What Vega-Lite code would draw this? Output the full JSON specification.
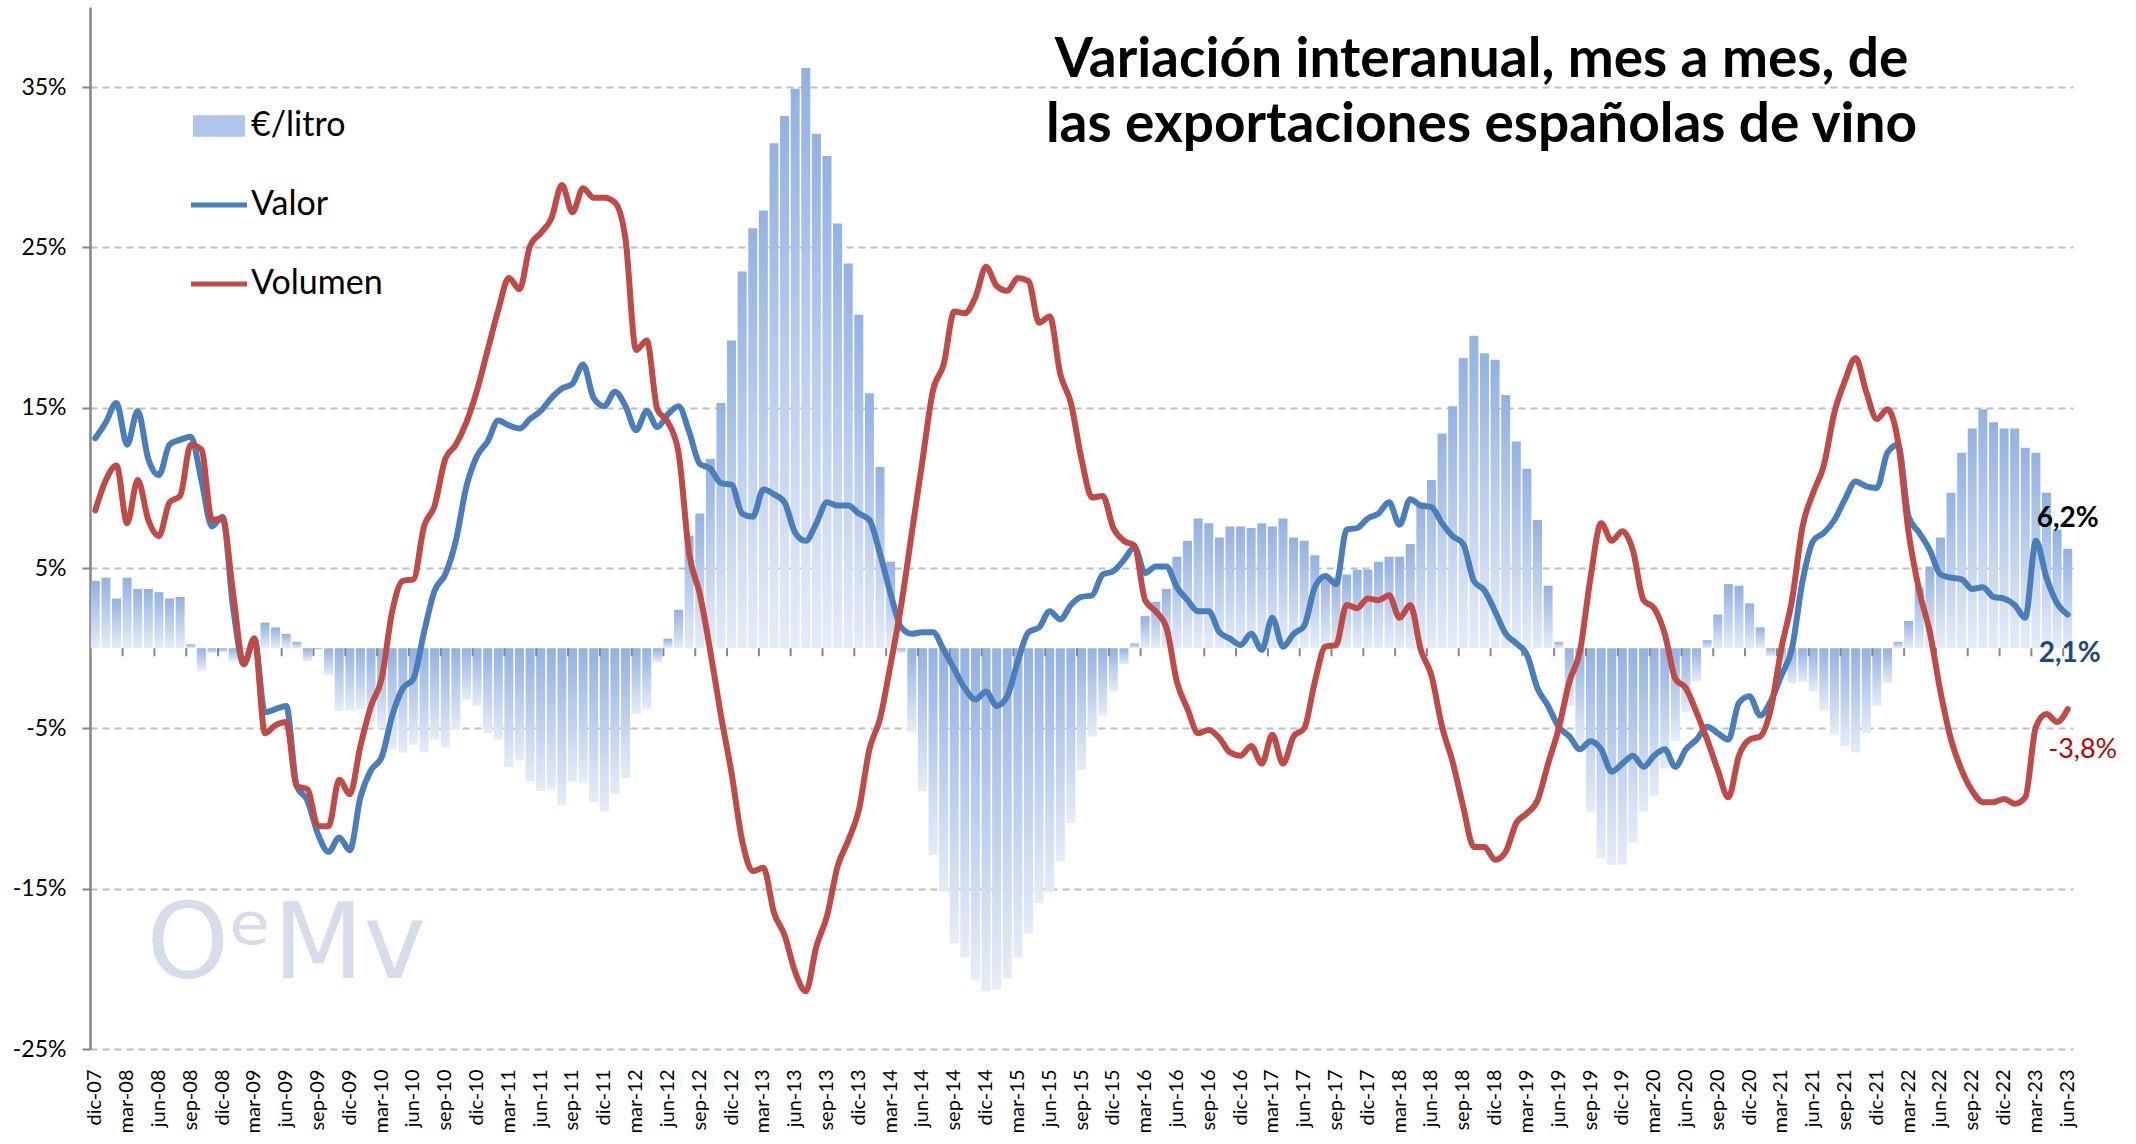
{
 "$schema": "https://vega.github.io/schema/vega-lite/v6.json",
 "width": 1983,
 "height": 1042,
 "autosize": {"type": "none"},
 "padding": {"left": 90, "top": 7, "right": 63, "bottom": 95},
 "background": "white",
 "config": {"view": {"stroke": null}, "font": "Lato"},
 "title": {
  "text": ["Variación interanual, mes a mes, de", "las exportaciones españolas de vino"],
  "font": "Lato", "fontSize": 55, "fontWeight": "bold", "color": "black",
  "lineHeight": 65, "anchor": "middle", "dx": 400, "dy": 190, "offset": 0, "baseline": "alphabetic"
 },
 "datasets": {"d": [
{"i":0,"mes":"dic-07","litro":4.2,"Valor":13.1,"Volumen":8.6},
{"i":1,"mes":"ene-08","litro":4.4,"Valor":14.1,"Volumen":10.5},
{"i":2,"mes":"feb-08","litro":3.1,"Valor":15.3,"Volumen":11.4},
{"i":3,"mes":"mar-08","litro":4.4,"Valor":12.7,"Volumen":7.8},
{"i":4,"mes":"abr-08","litro":3.7,"Valor":14.8,"Volumen":10.5},
{"i":5,"mes":"may-08","litro":3.7,"Valor":11.8,"Volumen":8.0},
{"i":6,"mes":"jun-08","litro":3.5,"Valor":10.8,"Volumen":7.0},
{"i":7,"mes":"jul-08","litro":3.1,"Valor":12.7,"Volumen":9.1},
{"i":8,"mes":"ago-08","litro":3.2,"Valor":13.0,"Volumen":9.5},
{"i":9,"mes":"sep-08","litro":0.25,"Valor":13.2,"Volumen":12.7},
{"i":10,"mes":"oct-08","litro":-1.4,"Valor":10.5,"Volumen":12.4},
{"i":11,"mes":"nov-08","litro":-0.3,"Valor":7.6,"Volumen":8.0},
{"i":12,"mes":"dic-08","litro":-0.25,"Valor":8.2,"Volumen":8.1},
{"i":13,"mes":"ene-09","litro":-0.8,"Valor":2.5,"Volumen":3.4},
{"i":14,"mes":"feb-09","litro":-0.1,"Valor":-1.0,"Volumen":-1.0},
{"i":15,"mes":"mar-09","litro":0.3,"Valor":0.6,"Volumen":0.6},
{"i":16,"mes":"abr-09","litro":1.6,"Valor":-4.0,"Volumen":-5.3},
{"i":17,"mes":"may-09","litro":1.3,"Valor":-3.8,"Volumen":-4.8},
{"i":18,"mes":"jun-09","litro":0.9,"Valor":-3.6,"Volumen":-4.6},
{"i":19,"mes":"jul-09","litro":0.4,"Valor":-8.6,"Volumen":-8.6},
{"i":20,"mes":"ago-09","litro":-0.8,"Valor":-9.5,"Volumen":-8.8},
{"i":21,"mes":"sep-09","litro":-0.1,"Valor":-11.6,"Volumen":-11.1},
{"i":22,"mes":"oct-09","litro":-1.7,"Valor":-12.7,"Volumen":-11.1},
{"i":23,"mes":"nov-09","litro":-3.9,"Valor":-11.8,"Volumen":-8.2},
{"i":24,"mes":"dic-09","litro":-3.9,"Valor":-12.6,"Volumen":-9.1},
{"i":25,"mes":"ene-10","litro":-3.8,"Valor":-9.3,"Volumen":-6.1},
{"i":26,"mes":"feb-10","litro":-4.6,"Valor":-7.6,"Volumen":-3.6},
{"i":27,"mes":"mar-10","litro":-5.0,"Valor":-6.8,"Volumen":-1.9},
{"i":28,"mes":"abr-10","litro":-6.3,"Valor":-4.2,"Volumen":2.3},
{"i":29,"mes":"may-10","litro":-6.5,"Valor":-2.5,"Volumen":4.2},
{"i":30,"mes":"jun-10","litro":-6.0,"Valor":-1.9,"Volumen":4.3},
{"i":31,"mes":"jul-10","litro":-6.5,"Valor":1.0,"Volumen":7.6},
{"i":32,"mes":"ago-10","litro":-5.7,"Valor":3.6,"Volumen":8.9},
{"i":33,"mes":"sep-10","litro":-6.2,"Valor":4.6,"Volumen":11.8},
{"i":34,"mes":"oct-10","litro":-5.1,"Valor":6.7,"Volumen":12.7},
{"i":35,"mes":"nov-10","litro":-3.2,"Valor":10.1,"Volumen":14.1},
{"i":36,"mes":"dic-10","litro":-3.6,"Valor":12.0,"Volumen":16.1},
{"i":37,"mes":"ene-11","litro":-5.3,"Valor":12.9,"Volumen":18.6},
{"i":38,"mes":"feb-11","litro":-5.7,"Valor":14.2,"Volumen":21.1},
{"i":39,"mes":"mar-11","litro":-7.4,"Valor":13.9,"Volumen":23.1},
{"i":40,"mes":"abr-11","litro":-7.0,"Valor":13.7,"Volumen":22.4},
{"i":41,"mes":"may-11","litro":-8.3,"Valor":14.3,"Volumen":25.1},
{"i":42,"mes":"jun-11","litro":-8.9,"Valor":14.8,"Volumen":25.9},
{"i":43,"mes":"jul-11","litro":-8.8,"Valor":15.6,"Volumen":26.8},
{"i":44,"mes":"ago-11","litro":-9.8,"Valor":16.2,"Volumen":28.9},
{"i":45,"mes":"sep-11","litro":-8.3,"Valor":16.5,"Volumen":27.2},
{"i":46,"mes":"oct-11","litro":-8.4,"Valor":17.7,"Volumen":28.7},
{"i":47,"mes":"nov-11","litro":-9.6,"Valor":15.6,"Volumen":28.1},
{"i":48,"mes":"dic-11","litro":-10.2,"Valor":15.1,"Volumen":28.1},
{"i":49,"mes":"ene-12","litro":-9.1,"Valor":16.0,"Volumen":27.8},
{"i":50,"mes":"feb-12","litro":-8.1,"Valor":15.1,"Volumen":25.5},
{"i":51,"mes":"mar-12","litro":-4.1,"Valor":13.6,"Volumen":18.6},
{"i":52,"mes":"abr-12","litro":-3.8,"Valor":14.8,"Volumen":19.2},
{"i":53,"mes":"may-12","litro":-0.9,"Valor":13.8,"Volumen":14.9},
{"i":54,"mes":"jun-12","litro":0.6,"Valor":14.6,"Volumen":14.1},
{"i":55,"mes":"jul-12","litro":2.4,"Valor":15.1,"Volumen":12.2},
{"i":56,"mes":"ago-12","litro":7.0,"Valor":13.5,"Volumen":5.9},
{"i":57,"mes":"sep-12","litro":8.4,"Valor":11.5,"Volumen":3.4},
{"i":58,"mes":"oct-12","litro":11.8,"Valor":11.2,"Volumen":-0.2},
{"i":59,"mes":"nov-12","litro":15.3,"Valor":10.3,"Volumen":-4.2},
{"i":60,"mes":"dic-12","litro":19.2,"Valor":10.2,"Volumen":-7.8},
{"i":61,"mes":"ene-13","litro":23.5,"Valor":8.4,"Volumen":-12.0},
{"i":62,"mes":"feb-13","litro":26.2,"Valor":8.2,"Volumen":-13.9},
{"i":63,"mes":"mar-13","litro":27.3,"Valor":9.9,"Volumen":-13.7},
{"i":64,"mes":"abr-13","litro":31.5,"Valor":9.6,"Volumen":-16.5},
{"i":65,"mes":"may-13","litro":33.2,"Valor":9.1,"Volumen":-17.9},
{"i":66,"mes":"jun-13","litro":34.9,"Valor":7.2,"Volumen":-20.2},
{"i":67,"mes":"jul-13","litro":36.2,"Valor":6.7,"Volumen":-21.4},
{"i":68,"mes":"ago-13","litro":32.1,"Valor":7.8,"Volumen":-18.6},
{"i":69,"mes":"sep-13","litro":30.7,"Valor":9.1,"Volumen":-16.7},
{"i":70,"mes":"oct-13","litro":26.5,"Valor":8.9,"Volumen":-13.6},
{"i":71,"mes":"nov-13","litro":24.0,"Valor":8.9,"Volumen":-12.0},
{"i":72,"mes":"dic-13","litro":20.8,"Valor":8.4,"Volumen":-10.1},
{"i":73,"mes":"ene-14","litro":15.9,"Valor":8.0,"Volumen":-6.3},
{"i":74,"mes":"feb-14","litro":11.3,"Valor":5.9,"Volumen":-4.4},
{"i":75,"mes":"mar-14","litro":5.4,"Valor":3.4,"Volumen":-1.0},
{"i":76,"mes":"abr-14","litro":-0.3,"Valor":1.3,"Volumen":2.7},
{"i":77,"mes":"may-14","litro":-5.2,"Valor":0.9,"Volumen":7.2},
{"i":78,"mes":"jun-14","litro":-8.9,"Valor":1.0,"Volumen":11.7},
{"i":79,"mes":"jul-14","litro":-12.9,"Valor":1.0,"Volumen":16.1},
{"i":80,"mes":"ago-14","litro":-15.2,"Valor":-0.1,"Volumen":17.7},
{"i":81,"mes":"sep-14","litro":-18.4,"Valor":-1.3,"Volumen":21.0},
{"i":82,"mes":"oct-14","litro":-19.3,"Valor":-2.5,"Volumen":20.9},
{"i":83,"mes":"nov-14","litro":-20.7,"Valor":-3.2,"Volumen":21.9},
{"i":84,"mes":"dic-14","litro":-21.4,"Valor":-2.7,"Volumen":23.8},
{"i":85,"mes":"ene-15","litro":-21.3,"Valor":-3.6,"Volumen":22.6},
{"i":86,"mes":"feb-15","litro":-20.6,"Valor":-3.0,"Volumen":22.3},
{"i":87,"mes":"mar-15","litro":-19.3,"Valor":-0.8,"Volumen":23.1},
{"i":88,"mes":"abr-15","litro":-17.8,"Valor":1.0,"Volumen":22.9},
{"i":89,"mes":"may-15","litro":-15.9,"Valor":1.3,"Volumen":20.3},
{"i":90,"mes":"jun-15","litro":-15.2,"Valor":2.3,"Volumen":20.7},
{"i":91,"mes":"jul-15","litro":-13.3,"Valor":1.8,"Volumen":17.1},
{"i":92,"mes":"ago-15","litro":-10.9,"Valor":2.7,"Volumen":15.3},
{"i":93,"mes":"sep-15","litro":-7.6,"Valor":3.2,"Volumen":11.8},
{"i":94,"mes":"oct-15","litro":-5.5,"Valor":3.3,"Volumen":9.4},
{"i":95,"mes":"nov-15","litro":-4.2,"Valor":4.6,"Volumen":9.5},
{"i":96,"mes":"dic-15","litro":-2.7,"Valor":4.8,"Volumen":7.5},
{"i":97,"mes":"ene-16","litro":-1.0,"Valor":5.5,"Volumen":6.7},
{"i":98,"mes":"feb-16","litro":0.3,"Valor":6.3,"Volumen":6.4},
{"i":99,"mes":"mar-16","litro":2.0,"Valor":4.7,"Volumen":3.0},
{"i":100,"mes":"abr-16","litro":2.9,"Valor":5.1,"Volumen":2.3},
{"i":101,"mes":"may-16","litro":3.7,"Valor":5.1,"Volumen":1.3},
{"i":102,"mes":"jun-16","litro":5.7,"Valor":3.8,"Volumen":-2.1},
{"i":103,"mes":"jul-16","litro":6.7,"Valor":3.0,"Volumen":-3.8},
{"i":104,"mes":"ago-16","litro":8.1,"Valor":2.3,"Volumen":-5.3},
{"i":105,"mes":"sep-16","litro":7.8,"Valor":2.3,"Volumen":-5.1},
{"i":106,"mes":"oct-16","litro":6.9,"Valor":1.0,"Volumen":-5.6},
{"i":107,"mes":"nov-16","litro":7.6,"Valor":0.6,"Volumen":-6.5},
{"i":108,"mes":"dic-16","litro":7.6,"Valor":0.2,"Volumen":-6.7},
{"i":109,"mes":"ene-17","litro":7.5,"Valor":0.9,"Volumen":-6.1},
{"i":110,"mes":"feb-17","litro":7.8,"Valor":-0.1,"Volumen":-7.2},
{"i":111,"mes":"mar-17","litro":7.6,"Valor":1.9,"Volumen":-5.4},
{"i":112,"mes":"abr-17","litro":8.1,"Valor":0.1,"Volumen":-7.2},
{"i":113,"mes":"may-17","litro":6.9,"Valor":0.9,"Volumen":-5.5},
{"i":114,"mes":"jun-17","litro":6.7,"Valor":1.4,"Volumen":-5.0},
{"i":115,"mes":"jul-17","litro":5.8,"Valor":3.8,"Volumen":-2.1},
{"i":116,"mes":"ago-17","litro":4.6,"Valor":4.5,"Volumen":0.1},
{"i":117,"mes":"sep-17","litro":4.4,"Valor":4.0,"Volumen":0.2},
{"i":118,"mes":"oct-17","litro":4.6,"Valor":7.4,"Volumen":2.7},
{"i":119,"mes":"nov-17","litro":4.9,"Valor":7.5,"Volumen":2.5},
{"i":120,"mes":"dic-17","litro":4.9,"Valor":8.1,"Volumen":3.1},
{"i":121,"mes":"ene-18","litro":5.4,"Valor":8.4,"Volumen":3.0},
{"i":122,"mes":"feb-18","litro":5.7,"Valor":9.1,"Volumen":3.3},
{"i":123,"mes":"mar-18","litro":5.7,"Valor":7.7,"Volumen":1.9},
{"i":124,"mes":"abr-18","litro":6.5,"Valor":9.3,"Volumen":2.7},
{"i":125,"mes":"may-18","litro":9.1,"Valor":8.9,"Volumen":-0.1},
{"i":126,"mes":"jun-18","litro":10.5,"Valor":8.8,"Volumen":-1.7},
{"i":127,"mes":"jul-18","litro":13.4,"Valor":7.8,"Volumen":-4.9},
{"i":128,"mes":"ago-18","litro":15.1,"Valor":7.0,"Volumen":-7.1},
{"i":129,"mes":"sep-18","litro":18.1,"Valor":6.5,"Volumen":-9.9},
{"i":130,"mes":"oct-18","litro":19.5,"Valor":4.2,"Volumen":-12.4},
{"i":131,"mes":"nov-18","litro":18.4,"Valor":3.6,"Volumen":-12.4},
{"i":132,"mes":"dic-18","litro":18.0,"Valor":2.3,"Volumen":-13.2},
{"i":133,"mes":"ene-19","litro":15.8,"Valor":0.9,"Volumen":-12.7},
{"i":134,"mes":"feb-19","litro":12.9,"Valor":0.3,"Volumen":-10.9},
{"i":135,"mes":"mar-19","litro":11.2,"Valor":-0.4,"Volumen":-10.3},
{"i":136,"mes":"abr-19","litro":8.0,"Valor":-2.5,"Volumen":-9.5},
{"i":137,"mes":"may-19","litro":3.9,"Valor":-3.6,"Volumen":-7.2},
{"i":138,"mes":"jun-19","litro":0.4,"Valor":-4.9,"Volumen":-5.0},
{"i":139,"mes":"jul-19","litro":-3.6,"Valor":-5.5,"Volumen":-2.1},
{"i":140,"mes":"ago-19","litro":-6.0,"Valor":-6.3,"Volumen":-0.2},
{"i":141,"mes":"sep-19","litro":-10.2,"Valor":-5.8,"Volumen":4.4},
{"i":142,"mes":"oct-19","litro":-13.1,"Valor":-6.3,"Volumen":7.8},
{"i":143,"mes":"nov-19","litro":-13.5,"Valor":-7.7,"Volumen":6.7},
{"i":144,"mes":"dic-19","litro":-13.5,"Valor":-7.2,"Volumen":7.3},
{"i":145,"mes":"ene-20","litro":-12.1,"Valor":-6.7,"Volumen":6.1},
{"i":146,"mes":"feb-20","litro":-10.2,"Valor":-7.4,"Volumen":3.0},
{"i":147,"mes":"mar-20","litro":-9.2,"Valor":-6.7,"Volumen":2.5},
{"i":148,"mes":"abr-20","litro":-7.5,"Valor":-6.3,"Volumen":0.9},
{"i":149,"mes":"may-20","litro":-5.8,"Valor":-7.4,"Volumen":-1.9},
{"i":150,"mes":"jun-20","litro":-4.0,"Valor":-6.3,"Volumen":-2.5},
{"i":151,"mes":"jul-20","litro":-2.1,"Valor":-5.7,"Volumen":-4.0},
{"i":152,"mes":"ago-20","litro":0.5,"Valor":-4.9,"Volumen":-5.7},
{"i":153,"mes":"sep-20","litro":2.1,"Valor":-5.3,"Volumen":-7.6},
{"i":154,"mes":"oct-20","litro":4.0,"Valor":-5.7,"Volumen":-9.3},
{"i":155,"mes":"nov-20","litro":3.9,"Valor":-3.4,"Volumen":-6.7},
{"i":156,"mes":"dic-20","litro":2.8,"Valor":-3.0,"Volumen":-5.7},
{"i":157,"mes":"ene-21","litro":1.3,"Valor":-4.2,"Volumen":-5.5},
{"i":158,"mes":"feb-21","litro":-0.5,"Valor":-3.3,"Volumen":-3.8},
{"i":159,"mes":"mar-21","litro":-1.0,"Valor":-1.7,"Volumen":0.0},
{"i":160,"mes":"abr-21","litro":-2.2,"Valor":0.0,"Volumen":3.0},
{"i":161,"mes":"may-21","litro":-2.1,"Valor":4.2,"Volumen":7.6},
{"i":162,"mes":"jun-21","litro":-2.7,"Valor":6.7,"Volumen":9.7},
{"i":163,"mes":"jul-21","litro":-3.9,"Valor":7.2,"Volumen":11.4},
{"i":164,"mes":"ago-21","litro":-5.4,"Valor":8.0,"Volumen":14.7},
{"i":165,"mes":"sep-21","litro":-6.1,"Valor":9.3,"Volumen":16.7},
{"i":166,"mes":"oct-21","litro":-6.5,"Valor":10.4,"Volumen":18.1},
{"i":167,"mes":"nov-21","litro":-5.3,"Valor":10.1,"Volumen":16.0},
{"i":168,"mes":"dic-21","litro":-3.6,"Valor":10.0,"Volumen":14.3},
{"i":169,"mes":"ene-22","litro":-2.2,"Valor":12.2,"Volumen":14.9},
{"i":170,"mes":"feb-22","litro":0.4,"Valor":12.7,"Volumen":12.9},
{"i":171,"mes":"mar-22","litro":1.7,"Valor":8.2,"Volumen":7.2},
{"i":172,"mes":"abr-22","litro":3.8,"Valor":7.2,"Volumen":3.6},
{"i":173,"mes":"may-22","litro":5.1,"Valor":6.1,"Volumen":1.0},
{"i":174,"mes":"jun-22","litro":6.9,"Valor":4.6,"Volumen":-2.7},
{"i":175,"mes":"jul-22","litro":9.7,"Valor":4.4,"Volumen":-5.7},
{"i":176,"mes":"ago-22","litro":12.2,"Valor":4.3,"Volumen":-7.6},
{"i":177,"mes":"sep-22","litro":13.7,"Valor":3.7,"Volumen":-8.9},
{"i":178,"mes":"oct-22","litro":14.9,"Valor":3.8,"Volumen":-9.6},
{"i":179,"mes":"nov-22","litro":14.1,"Valor":3.2,"Volumen":-9.6},
{"i":180,"mes":"dic-22","litro":13.7,"Valor":3.1,"Volumen":-9.4},
{"i":181,"mes":"ene-23","litro":13.7,"Valor":2.7,"Volumen":-9.7},
{"i":182,"mes":"feb-23","litro":12.5,"Valor":1.9,"Volumen":-9.3},
{"i":183,"mes":"mar-23","litro":12.2,"Valor":6.7,"Volumen":-4.9},
{"i":184,"mes":"abr-23","litro":9.7,"Valor":4.4,"Volumen":-4.1},
{"i":185,"mes":"may-23","litro":7.4,"Valor":2.8,"Volumen":-4.6},
{"i":186,"mes":"jun-23","litro":6.2,"Valor":2.1,"Volumen":-3.8}
 ]},
 "data": {"name": "d"},
 "encoding": {
  "x": {
   "field": "mes", "type": "ordinal", "sort": {"field": "i", "op": "min"},
   "scale": {"paddingInner": 0.15, "paddingOuter": 0.075},
   "axis": {
    "title": null, "domain": false, "ticks": false, "grid": false,
    "labelAngle": -90, "labelFont": "Lato", "labelFontSize": 20, "labelColor": "black",
    "labelPadding": 20, "labelOverlap": false,
    "values": ["dic-07","mar-08","jun-08","sep-08","dic-08","mar-09","jun-09","sep-09","dic-09","mar-10","jun-10","sep-10","dic-10","mar-11","jun-11","sep-11","dic-11","mar-12","jun-12","sep-12","dic-12","mar-13","jun-13","sep-13","dic-13","mar-14","jun-14","sep-14","dic-14","mar-15","jun-15","sep-15","dic-15","mar-16","jun-16","sep-16","dic-16","mar-17","jun-17","sep-17","dic-17","mar-18","jun-18","sep-18","dic-18","mar-19","jun-19","sep-19","dic-19","mar-20","jun-20","sep-20","dic-20","mar-21","jun-21","sep-21","dic-21","mar-22","jun-22","sep-22","dic-22","mar-23","jun-23"]
   }
  }
 },
 "layer": [
  {
   "mark": {
    "type": "bar",
    "color": {"gradient": "linear", "x1": 0, "y1": 0, "x2": 0, "y2": 1,
     "stops": [{"offset": 0, "color": "#93B1E2"}, {"offset": 1, "color": "#E5ECF8"}]}
   },
   "encoding": {
    "y": {
     "field": "litro", "type": "quantitative",
     "scale": {"domain": [-25, 40], "nice": false, "zero": false},
     "axis": {
      "title": null, "values": [-25, -15, -5, 5, 15, 25, 35],
      "labelExpr": "datum.value + '%'",
      "grid": true, "gridDash": [7, 5], "gridColor": "#BFBFBF", "gridWidth": 2,
      "domainColor": "#868686", "domainWidth": 2.5,
      "tickColor": "#868686", "tickSize": 8, "tickWidth": 2,
      "labelFont": "Lato", "labelFontSize": 23, "labelColor": "black", "labelPadding": 16
     }
    }
   }
  },
  {
   "transform": [{"filter": "datum.i == 18"}],
   "mark": {"type": "text", "text": "OᵉMv", "font": "DejaVu Sans", "fontSize": 105, "color": "#D6DCEA", "align": "center", "baseline": "middle"},
   "encoding": {"y": {"datum": -18.6}}
  },
  {
   "mark": {"type": "rule", "color": "#868686", "strokeWidth": 2.5},
   "encoding": {"y": {"datum": 0}}
  },
  {
   "transform": [{"filter": "datum.i % 3 == 0 && datum.i > 0"}],
   "mark": {"type": "rule", "color": "#868686", "strokeWidth": 2},
   "encoding": {
    "x": {"field": "mes", "type": "ordinal", "sort": {"field": "i", "op": "min"}, "bandPosition": 0},
    "y": {"datum": 0},
    "y2": {"datum": -0.5}
   }
  },
  {
   "transform": [{"fold": ["Valor", "Volumen"], "as": ["serie", "v"]}],
   "mark": {"type": "line", "interpolate": "monotone", "strokeWidth": 6, "strokeCap": "round", "strokeJoin": "round"},
   "encoding": {
    "y": {"field": "v", "type": "quantitative"},
    "color": {
     "field": "serie", "type": "nominal",
     "scale": {"domain": ["€/litro", "Valor", "Volumen"], "range": ["#AFC5EA", "#4A7EBB", "#BE4B48"]},
     "legend": {
      "title": null, "orient": "none", "legendX": 101, "legendY": 91, "padding": 0,
      "labelFont": "Lato", "labelFontSize": 34, "labelColor": "black", "labelOffset": 4,
      "labelLimit": 400, "symbolSize": 3136, "rowPadding": 34,
      "encode": {
       "symbols": {
        "update": {
         "shape": {"signal": "datum.value === '€/litro' ? 'M-0.93,-0.38H0.93V0.38H-0.93Z' : 'M-1,-0.09H1V0.09H-1Z'"},
         "fill": {"signal": "datum.value === '€/litro' ? '#AFC5EA' : (datum.value === 'Valor' ? '#4A7EBB' : '#BE4B48')"},
         "stroke": {"value": "transparent"},
         "strokeWidth": {"value": 0},
         "opacity": {"value": 1}
        }
       }
      }
     }
    }
   }
  },
  {
   "transform": [{"filter": "datum.i == 186"}],
   "mark": {"type": "text", "font": "Lato", "fontSize": 28, "fontWeight": "bold", "color": "black", "align": "center", "baseline": "middle", "dy": -30,
    "text": {"expr": "replace(format(datum.litro, '.1f'), '.', ',') + '%'"}},
   "encoding": {"y": {"field": "litro", "type": "quantitative"}}
  },
  {
   "transform": [{"filter": "datum.i == 186"}],
   "mark": {"type": "text", "font": "Lato", "fontSize": 28, "fontWeight": "bold", "color": "#1F497D", "align": "center", "baseline": "middle", "dy": 39, "dx": 2,
    "text": {"expr": "replace(format(datum.Valor, '.1f'), '.', ',') + '%'"}},
   "encoding": {"y": {"field": "Valor", "type": "quantitative"}}
  },
  {
   "transform": [{"filter": "datum.i == 186"}],
   "mark": {"type": "text", "font": "Lato", "fontSize": 27, "color": "#C00000", "align": "center", "baseline": "middle", "dy": 41, "dx": 15,
    "text": {"expr": "replace(replace(format(datum.Volumen, '.1f'), '.', ','), '−', '-') + '%'"}},
   "encoding": {"y": {"field": "Volumen", "type": "quantitative"}}
  }
 ]
}
